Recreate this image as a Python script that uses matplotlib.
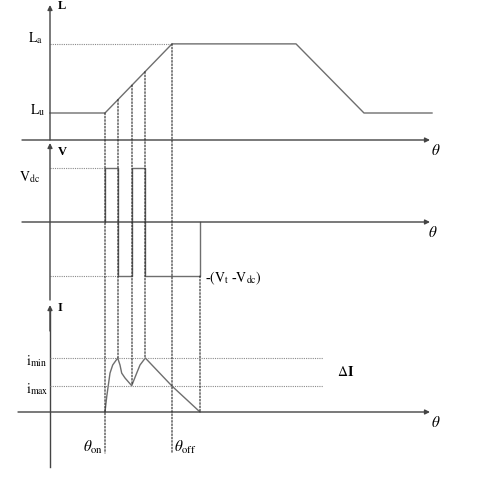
import numpy as np
import matplotlib.pyplot as plt
from matplotlib.patches import ConnectionPatch

plt.rcParams['font.family'] = ['Liberation Serif', 'DejaVu Serif']
plt.rcParams['mathtext.fontset'] = 'stix'

# -----------------------------------------------------------------------------
# Schematic data (rotor angle in arbitrary units, theta = 0 at the y axes)
# -----------------------------------------------------------------------------
theta_on = 55
theta_sw = [68, 82, 95]          # chopping instants
theta_off = 122
theta_ext = 150                  # current extinguished
theta_end = 380                  # end of theta axis

# inductance profile
L_u = 1.0
L_a = 3.56
L_theta = [0, theta_on, theta_off, 246, 314, 382]
L_vals = [L_u, L_u, L_a, L_a, L_u, L_u]

# phase voltage (+Vdc / -(Vt-Vdc))
V_dc = 1.0
V_neg = -1.0
V_theta = [55, 55, 68, 68, 82, 82, 95, 95, 150, 150]
V_vals = [0, 1, 1, -1, -1, 1, 1, -1, -1, 0]

# phase current
i_min = 1.0
i_max = 0.48
I_theta = [55, 56.7, 60, 62.7, 65, 67.7, 70, 71.7, 75, 81.7,
           86.7, 90, 95.3, 122, 150]
I_vals = [0, 0.28, 0.72, 0.87, 0.93, 1.0, 0.87, 0.72, 0.63, 0.487,
          0.72, 0.87, 1.0, 0.48, 0]

AXC = '#444444'
CURVE = '#6e6e6e'
DOT = '#222222'
REF = '#8a8a8a'
W, H = 504, 480


def L_at(t):
    return np.interp(t, L_theta, L_vals)


def I_at(t):
    return np.interp(t, I_theta, I_vals)


def arrow(ax, start, tip):
    ax.annotate('', xy=tip, xytext=start,
                arrowprops=dict(arrowstyle='-|>', lw=1.0, color=AXC,
                                mutation_scale=7, shrinkA=0, shrinkB=0),
                annotation_clip=False)


def panel(top, bottom, ylim):
    ax = fig.add_axes([0, 1 - bottom / H, 1, (bottom - top) / H])
    ax.set_xlim(-50, 454)
    ax.set_ylim(*ylim)
    ax.axis('off')
    return ax


fig = plt.figure(figsize=(5.04, 4.8), dpi=100)
axL = panel(0, 140, (0, 140 / 27))
axV = panel(140, 300, (-78 / 54, 82 / 54))
axI = panel(300, 480, (-68 / 54, 112 / 54))

# --- L panel -----------------------------------------------------------------
arrow(axL, (-28, 0), (theta_end, 0))
arrow(axL, (0, 0), (0, 5.0))
axL.plot(L_theta, L_vals, color=CURVE, lw=1.0)
axL.plot([0, theta_off], [L_a, L_a], color=REF, lw=0.8, ls=(0, (1, 1)))
axL.text(-7, L_a + 0.2, r'$\mathrm{L}_{\mathrm{a}}$', ha='right', va='center', fontsize=10)
axL.text(-5, L_u + 0.1, r'$\mathrm{L}_{\mathrm{u}}$', ha='right', va='center', fontsize=10)
axL.text(8, 4.96, 'L', fontweight='bold', ha='left', va='center', fontsize=9)
axL.text(386, -0.4, r'$\theta$', ha='center', va='center', fontsize=11)

# --- V panel -----------------------------------------------------------------
arrow(axV, (-28, 0), (theta_end, 0))
arrow(axV, (0, -78 / 54), (0, 79 / 54))
axV.plot(V_theta, V_vals, color=CURVE, lw=1.0)
axV.plot([0, theta_on], [V_dc, V_dc], color=REF, lw=0.8, ls=(0, (1, 1)))
axV.plot([0, theta_sw[0]], [V_neg, V_neg], color=REF, lw=0.8, ls=(0, (1, 1)))
axV.text(8, 1.30, 'V', fontweight='bold', ha='left', va='center', fontsize=9)
axV.text(-10, 0.83, r'$\mathrm{V}_{\mathrm{dc}}$', ha='right', va='center', fontsize=10)
axV.text(155, -1.05, r'-$(\mathrm{V}_{\mathrm{t}}$ -$\mathrm{V}_{\mathrm{dc}})$',
         ha='left', va='center', fontsize=10)
axV.text(383, -0.19, r'$\theta$', ha='center', va='center', fontsize=11)

# --- I panel -----------------------------------------------------------------
arrow(axI, (-32, 0), (theta_end, 0))
axI.plot([0, 0], [-55 / 54, 1.9], color=AXC, lw=1.0)
arrow(axI, (0, 1.5), (0, 1.98))
axI.plot(I_theta, I_vals, color=CURVE, lw=1.0)
for lev in (i_min, i_max):
    axI.plot([0, 273], [lev, lev], color=REF, lw=0.8, ls=(0, (1, 1)))
axI.text(8, 1.93, 'I', fontweight='bold', ha='left', va='center', fontsize=9)
axI.text(-24, 0.95, r'$\mathrm{i}_{\mathrm{min}}$', ha='left', va='center', fontsize=10)
axI.text(-24, 0.43, r'$\mathrm{i}_{\mathrm{max}}$', ha='left', va='center', fontsize=10)
axI.text(287, 0.74, r'$\Delta\mathbf{I}$', ha='left', va='center', fontsize=10)
axI.text(386, -0.2, r'$\theta$', ha='center', va='center', fontsize=11)
axI.text(53, -0.65, r'$\theta_{\mathrm{on}}$', ha='right', va='center', fontsize=11)
axI.text(124, -0.65, r'$\theta_{\mathrm{off}}$', ha='left', va='center', fontsize=11)

# --- dotted projection lines across panels ----------------------------------
def vline(t, y_top, ax_top, y_bot, ax_bot):
    cp = ConnectionPatch(xyA=(t, y_top), coordsA=ax_top.transData,
                         xyB=(t, y_bot), coordsB=ax_bot.transData,
                         color=DOT, lw=0.8, ls=(0, (1.5, 1.5)))
    fig.add_artist(cp)


vline(theta_on, L_at(theta_on), axL, -0.76, axI)
vline(theta_off, L_at(theta_off), axL, -0.76, axI)
for t in theta_sw:
    vline(t, L_at(t), axL, I_at(t), axI)
vline(theta_ext, V_neg, axV, 0, axI)

fig.savefig('out.png', dpi=100)
